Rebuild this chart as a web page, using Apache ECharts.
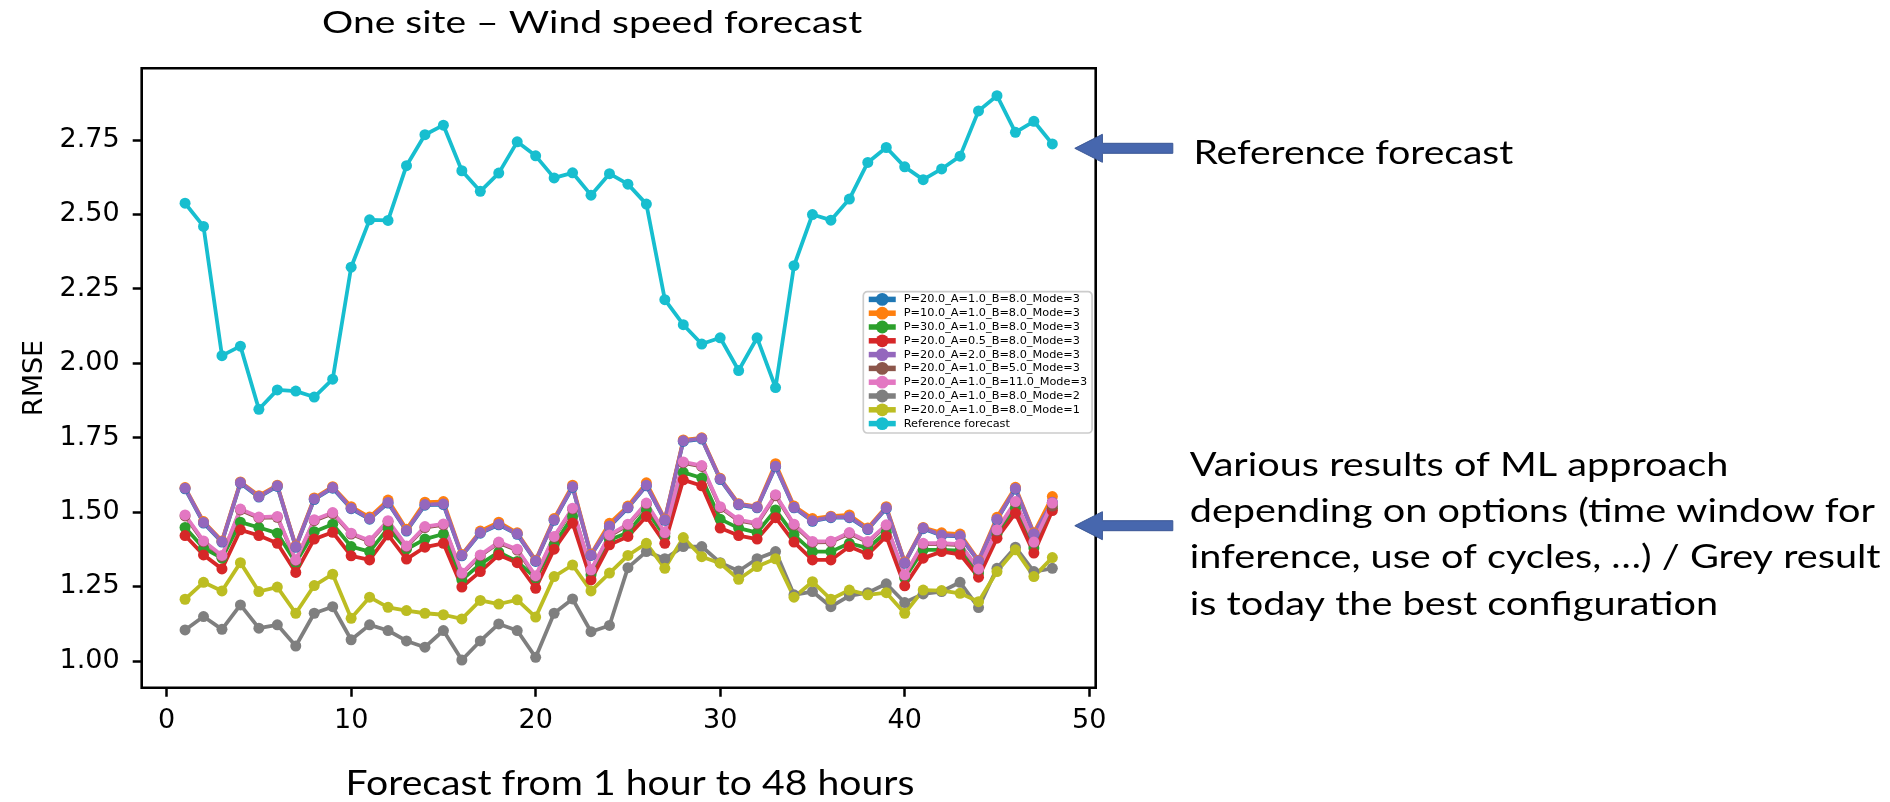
<!DOCTYPE html>
<html>
<head>
<meta charset="utf-8">
<script src="https://cdn.jsdelivr.net/npm/echarts@6.0.0/dist/echarts.min.js"></script>
<style>
  html, body { margin: 0; padding: 0; background: #ffffff; }
  #chart { width: 1890px; height: 802px; }
</style>
</head>
<body>
<div id="chart"></div>
<script>
// ---------- data ----------
const hours = [1,2,3,4,5,6,7,8,9,10,11,12,13,14,15,16,17,18,19,20,21,22,23,24,25,26,27,28,29,30,31,32,33,34,35,36,37,38,39,40,41,42,43,44,45,46,47,48];

const seriesNames = [
  'P=20.0_A=1.0_B=8.0_Mode=3',
  'P=10.0_A=1.0_B=8.0_Mode=3',
  'P=30.0_A=1.0_B=8.0_Mode=3',
  'P=20.0_A=0.5_B=8.0_Mode=3',
  'P=20.0_A=2.0_B=8.0_Mode=3',
  'P=20.0_A=1.0_B=5.0_Mode=3',
  'P=20.0_A=1.0_B=11.0_Mode=3',
  'P=20.0_A=1.0_B=8.0_Mode=2',
  'P=20.0_A=1.0_B=8.0_Mode=1',
  'Reference forecast'
];

const seriesColors = ['#1f77b4','#ff7f0e','#2ca02c','#d62728','#9467bd','#8c564b','#e377c2','#7f7f7f','#bcbd22','#17becf'];

const p20_a1_b8_m3 = [1.578,1.463,1.399,1.597,1.550,1.586,1.382,1.542,1.580,1.511,
  1.476,1.530,1.436,1.523,1.525,1.353,1.429,1.457,1.425,1.334,
  1.472,1.583,1.354,1.451,1.514,1.588,1.472,1.737,1.745,1.609,
  1.524,1.514,1.652,1.514,1.469,1.481,1.481,1.441,1.512,1.328,
  1.444,1.421,1.418,1.334,1.474,1.577,1.425,1.531];
const p10_a1_b8_m3 = [1.582,1.468,1.403,1.601,1.555,1.590,1.386,1.547,1.585,1.518,
  1.483,1.540,1.442,1.533,1.535,1.357,1.436,1.466,1.430,1.338,
  1.478,1.590,1.358,1.462,1.520,1.598,1.476,1.742,1.749,1.613,
  1.528,1.518,1.662,1.520,1.478,1.486,1.490,1.446,1.518,1.332,
  1.448,1.430,1.426,1.338,1.482,1.583,1.430,1.552];
const p30_a1_b8_m3 = [1.448,1.379,1.345,1.466,1.448,1.429,1.330,1.434,1.459,1.384,
  1.367,1.446,1.375,1.409,1.426,1.272,1.325,1.365,1.334,1.278,
  1.390,1.485,1.289,1.406,1.431,1.507,1.418,1.633,1.614,1.476,
  1.446,1.431,1.507,1.423,1.367,1.367,1.395,1.379,1.432,1.278,
  1.373,1.373,1.370,1.295,1.426,1.513,1.379,1.513];
const p20_a05_b8_m3 = [1.421,1.356,1.309,1.440,1.421,1.395,1.297,1.409,1.432,1.353,
  1.339,1.423,1.342,1.382,1.395,1.248,1.300,1.356,1.330,1.244,
  1.375,1.463,1.272,1.390,1.418,1.485,1.395,1.608,1.588,1.446,
  1.421,1.409,1.481,1.399,1.339,1.339,1.384,1.358,1.418,1.252,
  1.345,1.367,1.358,1.281,1.412,1.496,1.362,1.505];
const p20_a2_b8_m3 = [1.580,1.465,1.401,1.599,1.552,1.588,1.384,1.544,1.582,1.513,
  1.478,1.532,1.438,1.525,1.527,1.355,1.431,1.459,1.427,1.336,
  1.474,1.585,1.356,1.453,1.516,1.590,1.474,1.739,1.747,1.611,
  1.526,1.516,1.654,1.516,1.471,1.483,1.483,1.443,1.514,1.330,
  1.446,1.423,1.420,1.336,1.476,1.579,1.427,1.533];
const p20_a1_b5_m3 = [1.487,1.400,1.351,1.507,1.480,1.482,1.336,1.471,1.495,1.426,
  1.401,1.468,1.383,1.448,1.457,1.292,1.353,1.396,1.372,1.283,
  1.415,1.510,1.303,1.420,1.456,1.527,1.428,1.665,1.653,1.515,
  1.471,1.460,1.555,1.456,1.398,1.399,1.428,1.398,1.454,1.286,
  1.392,1.392,1.389,1.306,1.437,1.532,1.396,1.520];
const p20_a1_b11_m3 = [1.490,1.403,1.354,1.510,1.483,1.485,1.339,1.474,1.498,1.429,
  1.404,1.471,1.386,1.451,1.460,1.295,1.356,1.399,1.375,1.286,
  1.418,1.513,1.306,1.423,1.459,1.530,1.431,1.668,1.656,1.518,
  1.474,1.463,1.558,1.459,1.401,1.402,1.431,1.401,1.457,1.289,
  1.395,1.395,1.392,1.309,1.440,1.535,1.399,1.530];
const p20_a1_b8_m2 = [1.104,1.149,1.106,1.188,1.110,1.121,1.050,1.160,1.182,1.071,
  1.121,1.102,1.067,1.046,1.102,1.003,1.067,1.124,1.102,1.012,
  1.160,1.208,1.098,1.119,1.313,1.367,1.343,1.384,1.384,1.330,
  1.302,1.343,1.367,1.222,1.233,1.182,1.218,1.229,1.259,1.196,
  1.225,1.233,1.264,1.179,1.311,1.382,1.300,1.311];
const p20_a1_b8_m1 = [1.207,1.264,1.235,1.330,1.233,1.248,1.160,1.253,1.291,1.143,
  1.214,1.180,1.169,1.160,1.155,1.141,1.203,1.191,1.205,1.147,
  1.283,1.322,1.235,1.295,1.354,1.395,1.311,1.414,1.350,1.328,
  1.274,1.317,1.343,1.214,1.266,1.207,1.238,1.222,1.229,1.160,
  1.238,1.236,1.227,1.199,1.300,1.373,1.283,1.347];
const referenceForecast = [2.537,2.459,2.025,2.057,1.845,1.910,1.906,1.886,1.946,2.322,
  2.481,2.479,2.663,2.767,2.799,2.646,2.577,2.638,2.743,2.696,
  2.622,2.639,2.564,2.636,2.601,2.534,2.213,2.129,2.064,2.085,
  1.975,2.085,1.918,2.327,2.499,2.480,2.551,2.674,2.724,2.659,
  2.616,2.652,2.695,2.847,2.898,2.775,2.812,2.736];

const seriesValues = [p20_a1_b8_m3, p10_a1_b8_m3, p30_a1_b8_m3, p20_a05_b8_m3, p20_a2_b8_m3,
  p20_a1_b5_m3, p20_a1_b11_m3, p20_a1_b8_m2, p20_a1_b8_m1, referenceForecast];

const xTicks = [0, 10, 20, 30, 40, 50];
const yTicks = [1.00, 1.25, 1.50, 1.75, 2.00, 2.25, 2.50, 2.75];

const titleText = 'One site \u2013 Wind speed forecast';
const xAxisTitle = 'Forecast from 1 hour to 48 hours';
const yAxisTitle = 'RMSE';
const noteReference = 'Reference forecast';
const noteML = 'Various results of ML approach\ndepending on options (time window for\ninference, use of cycles, \u2026) / Grey result\nis today the best configuration';

// ---------- chart ----------
const chart = echarts.init(document.getElementById('chart'), null, { renderer: 'canvas' });

const tickFont = 'DejaVu Sans';
const noteFont = 'Lato';
const arrowBlue = '#4767ae';

const series = seriesNames.map((name, i) => ({
  name: name,
  type: 'line',
  data: hours.map((h, k) => [h, seriesValues[i][k]]),
  symbol: 'circle',
  symbolSize: 11,
  showSymbol: true,
  showAllSymbol: true,
  lineStyle: { color: seriesColors[i], width: 3.8 },
  itemStyle: { color: seriesColors[i], borderWidth: 0 },
  emphasis: { disabled: true },
  silent: true,
  animation: false
}));

function arrow(tipX, cy) {
  return {
    type: 'polygon',
    shape: { points: [
      [tipX, cy],
      [tipX + 27.6, cy - 14],
      [tipX + 27.6, cy - 5],
      [tipX + 98, cy - 5],
      [tipX + 98, cy + 5],
      [tipX + 27.6, cy + 5],
      [tipX + 27.6, cy + 14]
    ] },
    style: { fill: arrowBlue, stroke: '#3a5795', lineWidth: 1 },
    silent: true
  };
}

function note(text, x, y, size, sx, lineHeight) {
  const style = { text: text, fontFamily: noteFont, fontSize: size, fill: '#000', align: 'left', verticalAlign: 'top' };
  if (lineHeight) style.lineHeight = lineHeight;
  return { type: 'text', x: x, y: y, scaleX: sx, scaleY: 1, silent: true, style: style };
}

const option = {
  backgroundColor: '#ffffff',
  animation: false,
  color: seriesColors,
  grid: {
    left: 141.7, top: 68.3, width: 954, height: 619.4,
    show: true, borderColor: '#000000', borderWidth: 2.6, backgroundColor: 'transparent',
    containLabel: false
  },
  xAxis: {
    type: 'value',
    min: -1.35, max: 50.35,
    splitLine: { show: false },
    axisLine: { show: false, onZero: false },
    axisTick: { show: true, customValues: xTicks, length: 9, lineStyle: { color: '#000', width: 2.5 } },
    axisLabel: { customValues: xTicks, fontFamily: tickFont, fontSize: 27, color: '#000', margin: 20,
      formatter: v => String(Math.round(v)) }
  },
  yAxis: {
    type: 'value',
    min: 0.91, max: 2.99,
    splitLine: { show: false },
    axisLine: { show: false, onZero: false },
    axisTick: { show: true, customValues: yTicks, length: 9, lineStyle: { color: '#000', width: 2.5 } },
    axisLabel: { customValues: yTicks, fontFamily: tickFont, fontSize: 27, color: '#000', margin: 22,
      padding: [4, 0, 0, 0],
      formatter: v => v.toFixed(2) },
    name: yAxisTitle,
    nameLocation: 'middle',
    nameGap: 71,
    nameTextStyle: { fontFamily: tickFont, fontSize: 27, color: '#000' }
  },
  legend: {
    show: true,
    orient: 'vertical',
    left: 863.3, top: 291.7,
    padding: [1.3, 5, 3, 2.7],
    itemWidth: 27, itemHeight: 16, itemGap: 1,
    backgroundColor: 'rgba(255,255,255,0.8)',
    borderColor: '#cccccc', borderWidth: 1.7, borderRadius: 4,
    lineStyle: { width: 5.5 },
    textStyle: { fontFamily: tickFont, fontSize: 11.3, color: '#000', padding: [0, 0, 0, 3] },
    selectedMode: false,
    data: seriesNames
  },
  graphic: [
    note(titleText, 322, 7.4, 31, 1.26),
    note(xAxisTitle, 345.6, 765.7, 35.6, 1.10),
    note(noteReference, 1193.4, 137.2, 32.5, 1.20),
    note(noteML, 1189.7, 442.7, 32.5, 1.22, 46.1),
    arrow(1074.8, 148.3),
    arrow(1074.8, 525.7)
  ],
  series: series
};

chart.setOption(option);
</script>
</body>
</html>
